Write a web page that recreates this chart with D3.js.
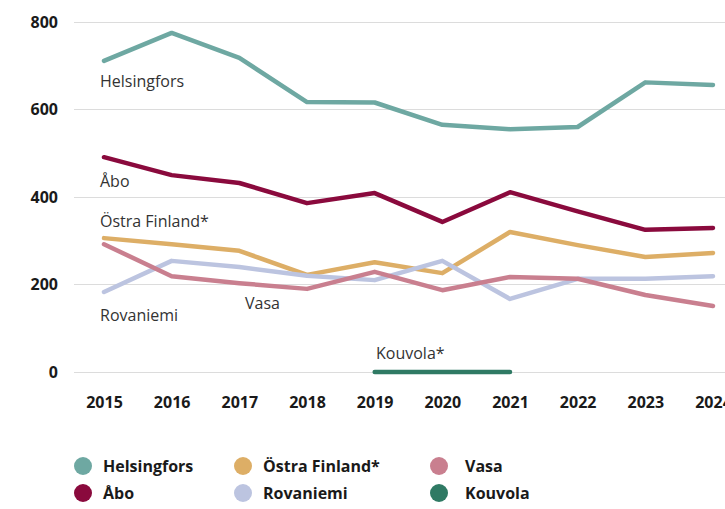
<!DOCTYPE html>
<html lang="sv">
<head>
<meta charset="UTF-8">
<title>Linjediagram</title>
<script src="https://cdn.jsdelivr.net/npm/d3@7/dist/d3.min.js"></script>
<style>
body{margin:0;background:#fff;}
svg text{font-family:"Open Sans","Noto Sans",sans-serif;}
.tick text{font-weight:bold;font-size:16px;fill:#1a1a1a;}
.grid line{stroke:#dcdcdc;stroke-width:1px;shape-rendering:crispEdges;}
.series{fill:none;stroke-width:4.5px;stroke-linejoin:round;stroke-linecap:round;}
.lbl{font-size:16px;fill:#333;}
.leg text{font-size:16px;font-weight:bold;fill:#1a1a1a;}
</style>
</head>
<body>
<script>
var years = [2015,2016,2017,2018,2019,2020,2021,2022,2023,2024];
var yTicks = [0,200,400,600,800];

var helsingfors = [711,775,718,617,616,565,555,560,662,656];
var abo         = [491,450,432,386,409,343,411,367,325,329];
var ostra       = [306,292,277,222,251,226,320,290,263,272];
var rovaniemi   = [183,254,240,220,210,254,167,213,213,219];
var vasa        = [292,219,203,190,229,187,217,213,176,151];
var kouvola     = [null,null,null,null,0,0,0,null,null,null];

var names  = ["Helsingfors","Åbo","Östra Finland*","Rovaniemi","Vasa","Kouvola*"];
var legendNames = ["Helsingfors","Åbo","Östra Finland*","Rovaniemi","Vasa","Kouvola"];
var colors = ["#6ea8a2","#8a0a3d","#ddae66","#bcc4e0","#c97f8f","#2f7a64"];
var values = [helsingfors,abo,ostra,rovaniemi,vasa,kouvola];

var W=725,H=509;
var svg=d3.select("body").append("svg").attr("width",W).attr("height",H);

var x=d3.scaleLinear().domain([2015,2024]).range([104,713]);
var y=d3.scaleLinear().domain([0,800]).range([372,22]);

// gridlines
svg.append("g").attr("class","grid").selectAll("line").data(yTicks).enter().append("line")
  .attr("x1",74).attr("x2",W).attr("y1",function(d){return y(d);}).attr("y2",function(d){return y(d);});

// y axis labels
var ya=svg.append("g").attr("transform","translate(60,0)")
  .call(d3.axisLeft(y).tickValues(yTicks).tickSize(0).tickPadding(2).tickFormat(d3.format("d")));
ya.select(".domain").remove();

// x axis labels
var xa=svg.append("g").attr("transform","translate(0,394)")
  .call(d3.axisBottom(x).tickValues(years).tickSize(0).tickFormat(d3.format("d")));
xa.select(".domain").remove();

var line=d3.line().defined(function(d){return d!=null;})
  .x(function(d,i){return x(years[i]);}).y(function(d){return y(d);});

svg.append("g").selectAll("path").data(values).enter().append("path")
  .attr("class","series")
  .attr("stroke",function(d,i){return colors[i];})
  .attr("d",line);

// inline labels
var lblPos=[[100,87],[100,187],[100,227],[100,321],[245,309],[376,359]];
svg.append("g").selectAll("text").data(names).enter().append("text")
  .attr("class","lbl")
  .attr("x",function(d,i){return lblPos[i][0];})
  .attr("y",function(d,i){return lblPos[i][1];})
  .text(function(d){return d;});

// legend (column-major order)
var legOrder=[0,2,4,1,3,5];
var colX=[83,243,439], rowY=[466,493];
var leg=svg.append("g").attr("class","leg").selectAll("g").data(legOrder).enter().append("g")
  .attr("transform",function(d,k){
    var c=Math.floor(d/2), r=d%2;
    return "translate("+colX[c]+","+rowY[r]+")";
  });
leg.append("circle").attr("r",9).attr("fill",function(d){return colors[d];});
leg.append("text").attr("x",function(d){return Math.floor(d/2)==2?26:20;}).attr("dy","0.35em")
  .text(function(d){return legendNames[d];});
</script>
</body>
</html>
